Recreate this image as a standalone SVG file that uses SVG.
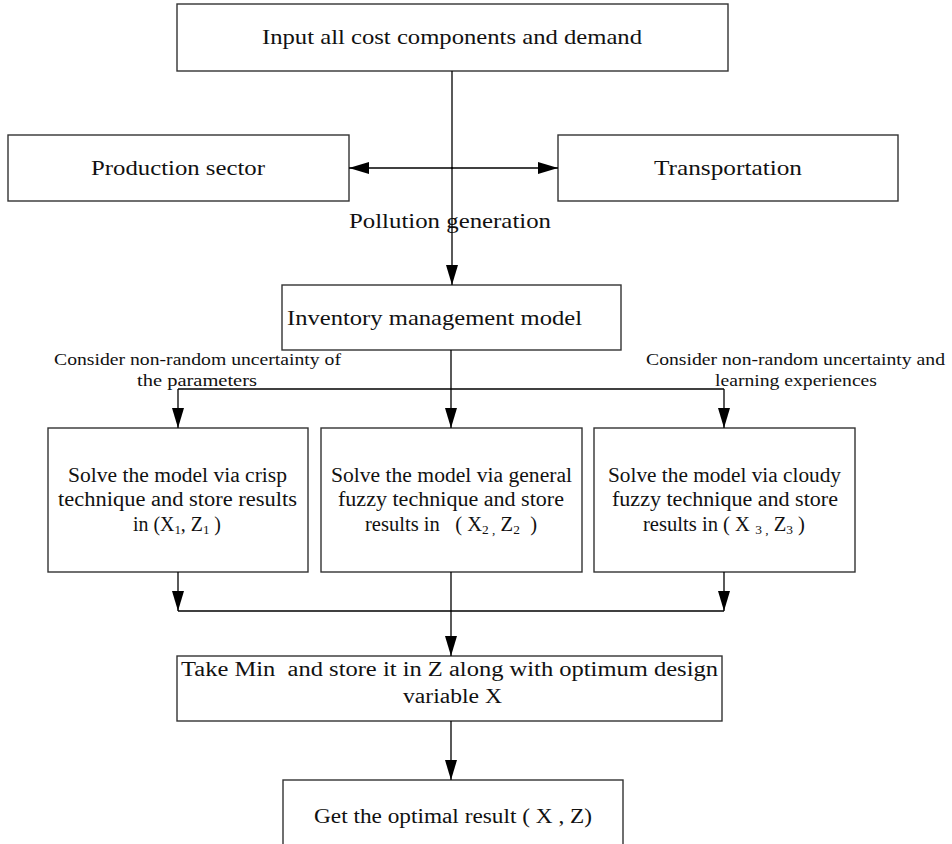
<svg xmlns="http://www.w3.org/2000/svg" width="952" height="844" viewBox="0 0 952 844">
<style>
.box{fill:#fff;stroke:#333;stroke-width:1.4}
.t{font-family:"Liberation Serif","DejaVu Serif",serif;fill:#111;text-anchor:middle}
.big{font-size:22px}
.mid{font-size:20px}
.sm{font-size:17.5px}
.sub{font-size:13px}
.ln{fill:none;stroke:#000;stroke-width:1.3}
</style>
<defs>
<marker id="ah" markerWidth="20" markerHeight="12" refX="20" refY="6" orient="auto" markerUnits="userSpaceOnUse" viewBox="0 0 20 12">
<path d="M0,0 L20,6 L0,12 Z" fill="#000"/>
</marker>
</defs>
<g id="n_input"><rect class="box" x="177" y="4" width="551" height="67"/><text class="t big" x="452" y="44" textLength="380" lengthAdjust="spacingAndGlyphs">Input all cost components and demand</text></g>
<g id="n_production"><rect class="box" x="8" y="135" width="341" height="66"/><text class="t big" x="178" y="175" textLength="174" lengthAdjust="spacingAndGlyphs">Production sector</text></g>
<g id="n_transport"><rect class="box" x="558" y="135" width="340" height="66"/><text class="t big" x="728" y="175" textLength="148" lengthAdjust="spacingAndGlyphs">Transportation</text></g>
<g id="n_inventory"><rect class="box" x="282" y="285" width="339" height="65"/><text class="t big" x="434.5" y="325" textLength="295" lengthAdjust="spacingAndGlyphs">Inventory management model</text></g>
<g id="n_crisp"><rect class="box" x="48" y="428" width="260" height="144"/>
<text class="t mid" x="177.5" y="482" textLength="219" lengthAdjust="spacingAndGlyphs">Solve the model via crisp</text>
<text class="t mid" x="177.5" y="506" textLength="239" lengthAdjust="spacingAndGlyphs">technique and store results</text>
<text class="t mid" x="177" y="531" textLength="88" lengthAdjust="spacingAndGlyphs">in (X<tspan class="sub" dy="3">1</tspan><tspan dy="-3">, Z</tspan><tspan class="sub" dy="3">1</tspan><tspan dy="-3"> )</tspan></text></g>
<g id="n_general"><rect class="box" x="321" y="428" width="261" height="144"/>
<text class="t mid" x="451.5" y="482" textLength="241" lengthAdjust="spacingAndGlyphs">Solve the model via general</text>
<text class="t mid" x="451" y="506" textLength="226" lengthAdjust="spacingAndGlyphs">fuzzy technique and store</text>
<text class="t mid" x="451" y="531" xml:space="preserve" textLength="172" lengthAdjust="spacingAndGlyphs">results in   ( X<tspan class="sub" dy="3">2 ,</tspan><tspan dy="-3"> Z</tspan><tspan class="sub" dy="3">2</tspan><tspan dy="-3">  )</tspan></text></g>
<g id="n_cloudy"><rect class="box" x="594" y="428" width="261" height="144"/>
<text class="t mid" x="724.5" y="482" textLength="233" lengthAdjust="spacingAndGlyphs">Solve the model via cloudy</text>
<text class="t mid" x="725" y="506" textLength="226" lengthAdjust="spacingAndGlyphs">fuzzy technique and store</text>
<text class="t mid" x="724" y="531" textLength="162" lengthAdjust="spacingAndGlyphs">results in ( X <tspan class="sub" dy="3">3 ,</tspan><tspan dy="-3"> Z</tspan><tspan class="sub" dy="3">3</tspan><tspan dy="-3"> )</tspan></text></g>
<g id="n_min"><rect class="box" x="177" y="656" width="545" height="65"/>
<text class="t mid" x="449.5" y="676" xml:space="preserve" textLength="537" lengthAdjust="spacingAndGlyphs">Take Min  and store it in Z along with optimum design</text>
<text class="t mid" x="452.5" y="703" textLength="99" lengthAdjust="spacingAndGlyphs">variable X</text></g>
<g id="n_result"><rect class="box" x="283" y="780" width="340" height="72"/>
<text class="t mid" x="453" y="823" textLength="278" lengthAdjust="spacingAndGlyphs">Get the optimal result ( X , Z)</text></g>
<g id="labels">
<text class="t big" x="450" y="228" textLength="202" lengthAdjust="spacingAndGlyphs">Pollution generation</text>
<text class="t sm" x="197.5" y="365" textLength="287" lengthAdjust="spacingAndGlyphs">Consider non-random uncertainty of</text>
<text class="t sm" x="197" y="386" textLength="120" lengthAdjust="spacingAndGlyphs">the parameters</text>
<text class="t sm" x="795.5" y="365" textLength="299" lengthAdjust="spacingAndGlyphs">Consider non-random uncertainty and</text>
<text class="t sm" x="796" y="386" textLength="162" lengthAdjust="spacingAndGlyphs">learning experiences</text>
</g>
<g id="connectors">
<path class="ln" d="M452,71 V285" marker-end="url(#ah)"/>
<path class="ln" d="M453,168 H349" marker-end="url(#ah)"/>
<path class="ln" d="M451,168 H558" marker-end="url(#ah)"/>
<path class="ln" d="M451,350 V428" marker-end="url(#ah)"/>
<path class="ln" d="M178,389 H724"/>
<path class="ln" d="M178,389 V428" marker-end="url(#ah)"/>
<path class="ln" d="M724,389 V428" marker-end="url(#ah)"/>
<path class="ln" d="M178,572 V611" marker-end="url(#ah)"/>
<path class="ln" d="M724,572 V611" marker-end="url(#ah)"/>
<path class="ln" d="M178,611 H724"/>
<path class="ln" d="M451,572 V656" marker-end="url(#ah)"/>
<path class="ln" d="M451,721 V780" marker-end="url(#ah)"/>
</g>
</svg>
